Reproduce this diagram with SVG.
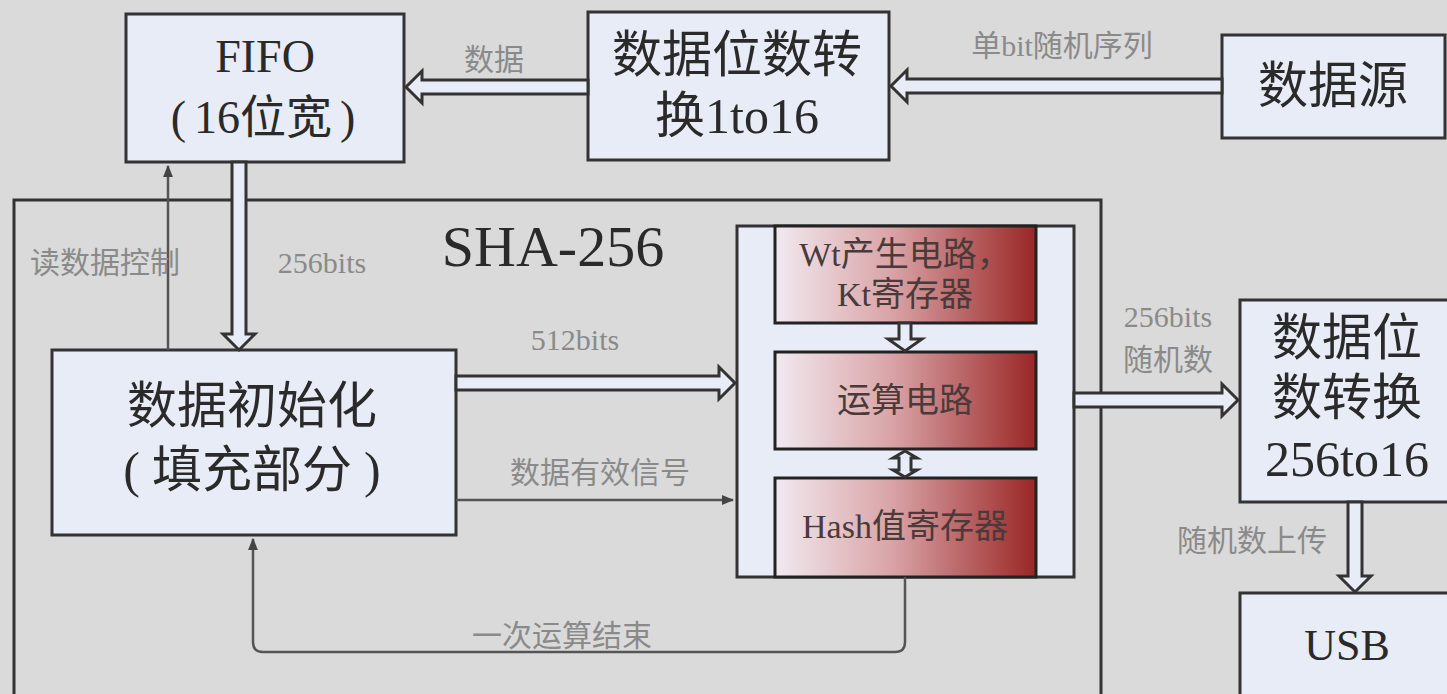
<svg xmlns="http://www.w3.org/2000/svg" width="1447" height="694" viewBox="0 0 1447 694">
<defs>
<linearGradient id="red" x1="0" y1="0" x2="1" y2="0">
<stop offset="0" stop-color="#f1eaf0"/>
<stop offset="0.45" stop-color="#d9a3a6"/>
<stop offset="1" stop-color="#9a2626"/>
</linearGradient>
<marker id="sm" viewBox="0 0 10 10" refX="9" refY="5" markerWidth="5" markerHeight="5" orient="auto">
<path d="M0,1 L10,5 L0,9 Z" fill="#444"/>
</marker>
<style>
.box{fill:#e8ecf6;stroke:#333;stroke-width:3}
.rbox{fill:url(#red);stroke:#222;stroke-width:3}
.t{font-family:"Liberation Serif","Noto Sans CJK SC",serif;fill:#2a2a2a;text-anchor:middle}
.big{font-size:50px}
.mid{font-size:34px;fill:#4a3a3a}
.lbl{font-family:"Liberation Serif","Noto Sans CJK SC",serif;font-size:30px;fill:#8a8a8a;text-anchor:middle}
.ha{fill:#e8ecf6;stroke:#333;stroke-width:3;stroke-linejoin:miter}
.thin{fill:none;stroke:#555;stroke-width:2.5}
</style>
</defs>
<rect width="1447" height="694" fill="#dadada"/>

<g id="sha256">
<rect x="14" y="200" width="1087" height="520" fill="none" stroke="#333" stroke-width="3"/>
<text class="t" x="553" y="266" font-size="58" fill="#333">SHA-256</text>
</g>

<g id="fifo">
<rect class="box" x="126" y="14" width="278" height="148"/>
<text class="t" font-size="46" x="265" y="72">FIFO</text>
<text class="t" font-size="46" x="263" y="133">(<tspan dx="8">16位宽</tspan><tspan dx="8">)</tspan></text>
</g>

<g id="conv1to16">
<rect class="box" x="588" y="12" width="301" height="148"/>
<text class="t big" x="737" y="72">数据位数转</text>
<text class="t big" x="737" y="133">换1to16</text>
</g>

<g id="source">
<rect class="box" x="1222" y="35" width="223" height="103"/>
<text class="t big" x="1333" y="103">数据源</text>
</g>

<g id="init">
<rect class="box" x="52" y="350" width="404" height="185"/>
<text class="t big" x="252" y="423">数据初始化</text>
<text class="t big" x="252" y="487">(<tspan dx="12">填充部分</tspan><tspan dx="12">)</tspan></text>
</g>

<g id="core">
<rect class="box" x="737" y="226" width="337" height="351"/>
</g>

<g id="wt">
<rect class="rbox" x="775" y="226" width="261" height="97"/>
<text class="t mid" x="905" y="266">Wt产生电路，</text>
<text class="t mid" x="905" y="306">Kt寄存器</text>
</g>

<g id="calc">
<rect class="rbox" x="775" y="352" width="261" height="97"/>
<text class="t mid" x="905" y="412">运算电路</text>
</g>

<g id="hash">
<rect class="rbox" x="775" y="478" width="261" height="99"/>
<text class="t mid" x="905" y="538">Hash值寄存器</text>
</g>

<g id="conv256to16">
<rect class="box" x="1240" y="300" width="209" height="202"/>
<text class="t big" x="1347" y="355">数据位</text>
<text class="t big" x="1347" y="415">数转换</text>
<text class="t big" x="1347" y="476">256to16</text>
</g>

<g id="usb">
<rect class="box" x="1240" y="593" width="209" height="120"/>
<text class="t" x="1347" y="660" font-size="44">USB</text>
</g>

<g id="connectors">
<polygon class="ha" points="1222,79 907,79 907,70 891,86 907,102 907,93 1222,93"/>
<polygon class="ha" points="588,80 422,80 422,71 406,87 422,103 422,94 588,94"/>
<polygon class="ha" points="232,162 232,334 223,334 239,350 255,334 246,334 246,162"/>
<polygon class="ha" points="456,376 719,376 719,367 735,383 719,399 719,390 456,390"/>
<polygon class="ha" points="1074,393 1222,393 1222,384 1238,400 1222,416 1222,407 1074,407"/>
<polygon class="ha" points="1348,502 1348,576 1339,576 1355,592 1371,576 1362,576 1362,502"/>
<polygon class="ha" points="899,323 899,339 888,339 905,351 922,339 911,339 911,323"/>
<polygon class="ha" points="905,451 893,458 899,458 899,470 893,470 905,477 917,470 911,470 911,458 917,458"/>
<line class="thin" x1="168" y1="350" x2="168" y2="166" marker-end="url(#sm)"/>
<line class="thin" x1="456" y1="500" x2="733" y2="500" marker-end="url(#sm)"/>
<path class="thin" d="M905,577 L905,642 Q905,652 895,652 L263,652 Q253,652 253,642 L253,539" marker-end="url(#sm)"/>

<text class="lbl" x="494" y="70">数据</text>
<text class="lbl" x="1062" y="56">单bit随机序列</text>
<text class="lbl" x="105" y="273">读数据控制</text>
<text class="lbl" x="322" y="273">256bits</text>
<text class="lbl" x="575" y="350">512bits</text>
<text class="lbl" x="600" y="483">数据有效信号</text>
<text class="lbl" x="562" y="646">一次运算结束</text>
<text class="lbl" x="1168" y="327">256bits</text>
<text class="lbl" x="1168" y="370">随机数</text>
<text class="lbl" x="1252" y="551">随机数上传</text>
</g>
</svg>
